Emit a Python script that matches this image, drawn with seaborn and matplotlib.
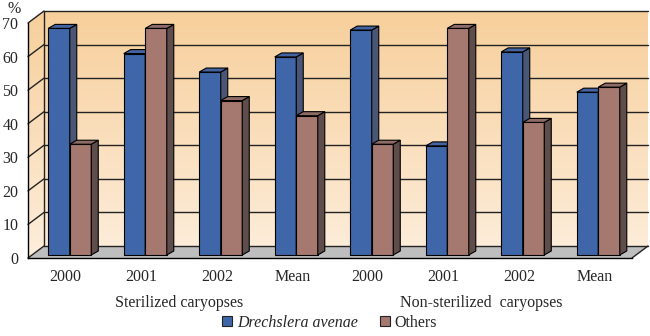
import numpy as np
import pandas as pd
import matplotlib
matplotlib.use("Agg")
import matplotlib.pyplot as plt
import seaborn as sns
from matplotlib.patches import Polygon
from matplotlib.transforms import ScaledTranslation, IdentityTransform
from matplotlib.colors import LinearSegmentedColormap
from matplotlib.lines import Line2D

# ---------------- data ----------------
categories = ["2000", "2001", "2002", "Mean", "2000", "2001", "2002", "Mean"]
groups = ["Sterilized caryopses", "Non-sterilized  caryopses"]
drechslera = [67.5, 60, 54.5, 59, 67, 32.5, 60.5, 48.5]
others = [33, 67.5, 46, 41.5, 33, 67.5, 39.5, 50]
series_names = ["Drechslera avenae", "Others"]
yticks = [0, 10, 20, 30, 40, 50, 60, 70]

slots = [str(i) for i in range(len(categories))]
df = pd.DataFrame({
    "slot": slots * 2,
    "value": drechslera + others,
    "series": [series_names[0]] * len(slots) + [series_names[1]] * len(slots),
})

# ---------------- style ----------------
sns.set_style("white")
plt.rcParams["font.family"] = ["Liberation Serif", "DejaVu Serif"]

W, H = 650, 336
DPI = 100
fig = plt.figure(figsize=(W / DPI, H / DPI), dpi=DPI)
fig.patch.set_facecolor("white")

bg = fig.add_axes([0, 0, 1, 1])
bg.set_xlim(0, W)
bg.set_ylim(0, H)
bg.axis("off")

L, R, B, T = 28, 632, 78, 313
ax = fig.add_axes([L / W, B / H, (R - L) / W, (T - B) / H])
ax.patch.set_alpha(0)

col_front = ["#3F66A8", "#A57870"]
col_side = ["#4A5675", "#5E4D4B"]
col_top = ["#4463A0", "#8E6C66"]

sns.barplot(data=df, x="slot", y="value", hue="series", order=slots,
            hue_order=series_names, palette=col_front, saturation=1,
            width=0.57, edgecolor="black", linewidth=0.8, legend=False, ax=ax)

ax.set_xlim(-0.5, len(slots) - 0.5)
ax.set_ylim(0, 70)
ax.set_xlabel("")
ax.set_ylabel("")

# ---------------- walls / floor ----------------
DX, DY = 16, 12  # depth offset of back wall (px)
backwall = [(L + DX, B + DY), (R + DX, B + DY), (R + DX, T + DY), (L + DX, T + DY)]
leftwall = [(L, B), (L + DX, B + DY), (L + DX, T + DY), (L, T)]
floor = [(L, B), (R, B), (R + DX, B + DY), (L + DX, B + DY)]

grad = np.linspace(0, 1, 256).reshape(-1, 1)
cmap = LinearSegmentedColormap.from_list("wall", ["#FDEEDC", "#F7CF9B"])
for poly in (backwall, leftwall):
    im = bg.imshow(grad, extent=[L, R + DX, B, T + DY], origin="lower",
                   cmap=cmap, aspect="auto", zorder=0)
    clip = Polygon(poly, closed=True, transform=bg.transData)
    im.set_clip_path(clip)
bg.add_patch(Polygon(floor, closed=True, facecolor="#BEBEBE", edgecolor="none", zorder=1))

# gridlines on walls
for v in yticks:
    y = ax.transData.transform((0, v))[1]
    bg.plot([L + DX, R + DX], [y + DY, y + DY], color="#222222", lw=1.0, zorder=2)
    bg.plot([L, L + DX], [y, y + DY], color="#222222", lw=1.0, zorder=2)
bg.plot([L + DX, L + DX], [B + DY, T + DY], color="#222222", lw=1.0, zorder=2)
bg.plot([R, R + DX], [B, B + DY], color="#222222", lw=1.0, zorder=2)

# ---------------- 3D bars ----------------
off = ScaledTranslation(4 / DPI, 3 / DPI, fig.dpi_scale_trans)
BDX, BDY = 7, 4
blue_rgba = matplotlib.colors.to_rgba(col_front[0])
bars = sorted(ax.patches, key=lambda p: p.get_x())
for i, p in enumerate(bars):
    tr = ax.transData + off
    p.set_transform(tr)
    p.set_clip_on(False)
    z = 3 + i * 0.01
    p.set_zorder(z)
    k = 0 if np.allclose(p.get_facecolor()[:3], blue_rgba[:3], atol=0.02) else 1
    x0, y0 = tr.transform((p.get_x(), 0))
    x1, y1 = tr.transform((p.get_x() + p.get_width(), p.get_height()))
    side = [(x1, y0), (x1 + BDX, y0 + BDY), (x1 + BDX, y1 + BDY), (x1, y1)]
    top = [(x0, y1), (x1, y1), (x1 + BDX, y1 + BDY), (x0 + BDX, y1 + BDY)]
    ax.add_patch(Polygon(side, closed=True, facecolor=col_side[k], edgecolor="black",
                         lw=0.8, transform=IdentityTransform(), clip_on=False, zorder=z))
    ax.add_patch(Polygon(top, closed=True, facecolor=col_top[k], edgecolor="black",
                         lw=0.8, transform=IdentityTransform(), clip_on=False, zorder=z))

# ---------------- axes ----------------
for s in ["top", "right"]:
    ax.spines[s].set_visible(False)
for s in ["left", "bottom"]:
    ax.spines[s].set_color("black")
    ax.spines[s].set_linewidth(1.0)
    ax.spines[s].set_zorder(10)

ax.set_yticks(yticks)
ax.set_yticklabels([str(v) for v in yticks], fontsize=11.5)
ax.set_xticks(range(len(slots)))
ax.set_xticklabels(categories, fontsize=11.5)
ax.set_xticks(np.arange(-0.5, len(slots), 1.0), minor=True)
ax.tick_params(axis="x", which="major", length=0, pad=8)
ax.tick_params(axis="x", which="minor", length=6, width=1, direction="out", color="black")
ax.tick_params(axis="y", length=5, width=1, direction="out", color="black", pad=2)

# group labels
for gi, g in enumerate(groups):
    xc = gi * 4 + 1.5
    ax.text(xc, -0.19, g, transform=ax.get_xaxis_transform(), ha="center", va="center",
            fontsize=11.5)

# % label
fig.text(14 / W, 1 - 9 / H, "%", fontsize=11.5, ha="center", va="center")

# legend
handles = [Line2D([], [], marker="s", linestyle="none", markersize=7,
                  markerfacecolor=c, markeredgecolor="#222222", markeredgewidth=0.8)
           for c in col_front]
leg = fig.legend(handles, series_names, loc="center", bbox_to_anchor=(0.505, 1 - 323 / H),
                 ncol=2, frameon=False, fontsize=11.5, handletextpad=0.1,
                 columnspacing=1.2, handlelength=1.0)
leg.get_texts()[0].set_fontstyle("italic")

fig.savefig("out.png", dpi=DPI, facecolor="white")
